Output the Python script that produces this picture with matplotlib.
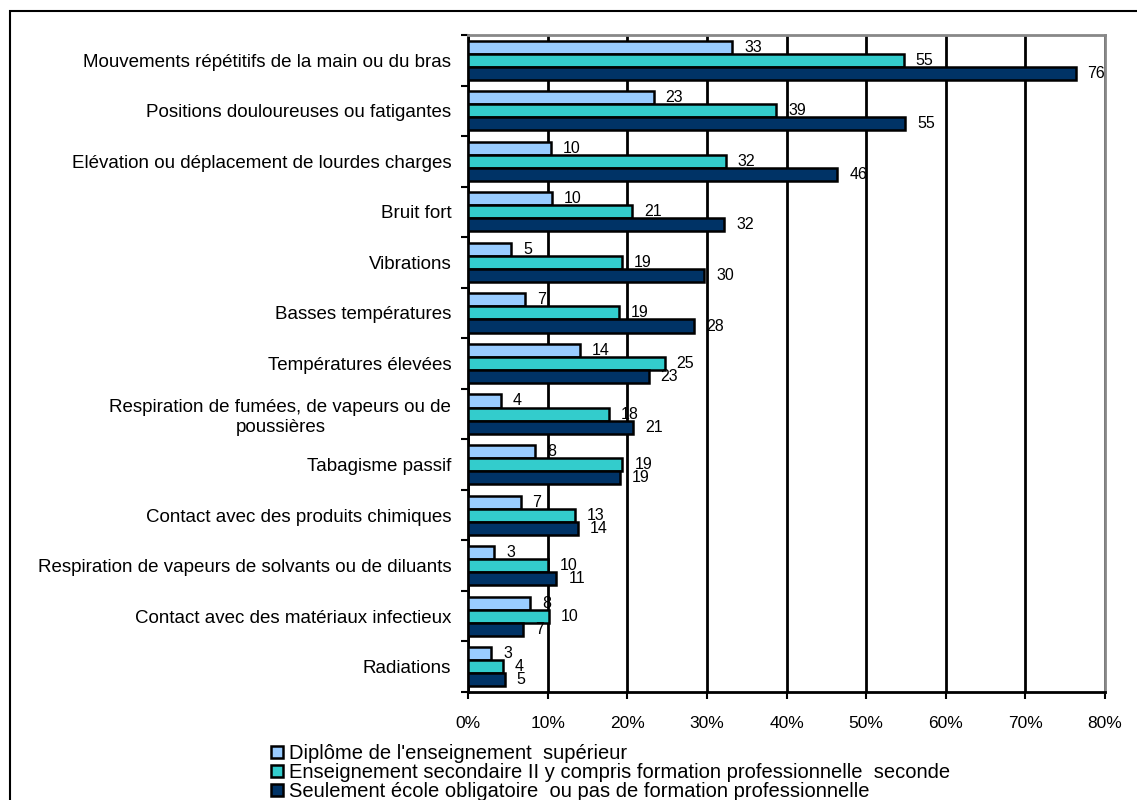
import matplotlib.pyplot as plt
import matplotlib.patches as mpatches
import numpy as np

plt.rcParams['font.family'] = ['Liberation Sans', 'DejaVu Sans']

# categories, top to bottom
categories = [
    "Mouvements répétitifs de la main ou du bras",
    "Positions douloureuses ou fatigantes",
    "Elévation ou déplacement de lourdes charges",
    "Bruit fort",
    "Vibrations",
    "Basses températures",
    "Températures élevées",
    "Respiration de fumées, de vapeurs ou de\npoussières",
    "Tabagisme passif",
    "Contact avec des produits chimiques",
    "Respiration de vapeurs de solvants ou de diluants",
    "Contact avec des matériaux infectieux",
    "Radiations",
]

superieur = [33.2, 23.3, 10.4, 10.5, 5.4, 7.2, 14.1, 4.1, 8.4, 6.6, 3.3, 7.8, 2.9]
secondaire = [54.7, 38.7, 32.4, 20.6, 19.3, 19.0, 24.7, 17.7, 19.4, 13.4, 10.0, 10.2, 4.4]
obligatoire = [76.3, 54.9, 46.4, 32.2, 29.7, 28.4, 22.7, 20.7, 19.1, 13.8, 11.1, 6.9, 4.6]

series_names = [
    "Diplôme de l'enseignement  supérieur",
    "Enseignement secondaire II y compris formation professionnelle  seconde",
    "Seulement école obligatoire  ou pas de formation professionnelle",
]
colors = ['#99ccff', '#33cccc', '#003366']

fig = plt.figure(figsize=(11.37, 8), dpi=100)
# outer frame (left and top visible)
fig.patches.append(mpatches.Rectangle((10 / 1137, -0.1), 1.2, 1 - 11 / 800 + 0.1,
                                      transform=fig.transFigure, fill=False,
                                      edgecolor='black', linewidth=1.5))

ax = fig.add_axes([468 / 1137, 1 - 692 / 800, (1105 - 468) / 1137, (692 - 35) / 800])

n = len(categories)
y = np.arange(n)
h = 0.258
data = [superieur, secondaire, obligatoire]
for i, (vals, col, name) in enumerate(zip(data, colors, series_names)):
    pos = y + (i - 1) * h
    ax.barh(pos, vals, height=h, color=col, edgecolor='black', linewidth=1.8,
            label=name, zorder=3)
    for p, v in zip(pos, vals):
        ax.text(v + 1.5, p, '%.0f' % v, va='center', ha='left', fontsize=11.5, zorder=4)

ax.set_xlim(0, 80)
ax.set_ylim(n - 0.5, -0.5)
ax.set_xticks(np.arange(0, 81, 10))
ax.set_xticklabels(['%d%%' % t for t in range(0, 81, 10)], fontsize=12.5)
ax.set_yticks(y)
ax.set_yticklabels(categories, fontsize=13.5, multialignment='center')
ax.set_yticks(np.arange(-0.5, n, 1), minor=True)
ax.tick_params(axis='y', which='major', length=0, pad=12)
ax.tick_params(axis='y', which='minor', length=5, width=1.5, direction='out')
ax.tick_params(axis='x', length=5, width=1.5, direction='out', pad=12)
ax.xaxis.grid(True, color='black', linewidth=2, zorder=0)
ax.set_axisbelow(True)

for s in ['top', 'right']:
    ax.spines[s].set_color('#888888')
    ax.spines[s].set_linewidth(2)
for s in ['left', 'bottom']:
    ax.spines[s].set_color('black')
    ax.spines[s].set_linewidth(2)

leg = fig.legend(loc='upper left', bbox_to_anchor=(261 / 1137, 1 - 734 / 800),
                 frameon=False, fontsize=14.5, handlelength=0.6, handleheight=0.6,
                 handletextpad=0.3, labelspacing=0.0, borderpad=0)
for p in leg.get_patches():
    p.set_linewidth(1.8)

fig.savefig('out.png', dpi=100)
